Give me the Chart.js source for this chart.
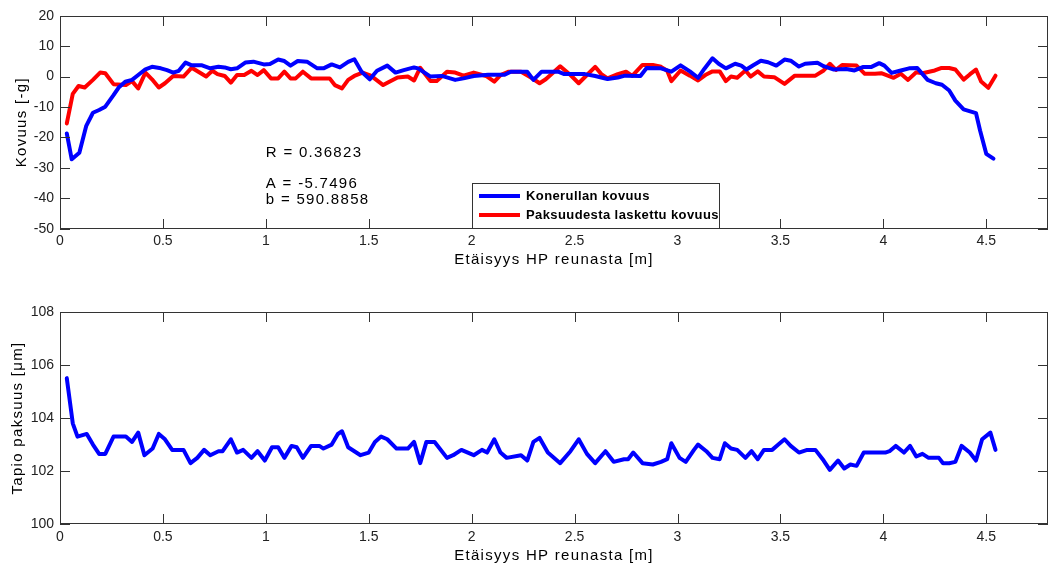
<!DOCTYPE html>
<html lang="fi">
<head>
<meta charset="UTF-8">
<title>Kovuus ja paksuus</title>
<script src="https://cdn.jsdelivr.net/npm/chart.js"></script>
<style>
  body { margin: 0; background: #fff; }
  #wrap { position: relative; width: 1048px; height: 565px; }
  canvas { position: absolute; left: 0; }
  #top { top: 0; }
  #bottom { top: 285px; }
</style>
</head>
<body>
<div id="wrap">
  <canvas id="top" width="1048" height="285"></canvas>
  <canvas id="bottom" width="1048" height="280"></canvas>
</div>
<script>
// x ticks (m) and y ticks
const xTicks = [0, 0.5, 1, 1.5, 2, 2.5, 3, 3.5, 4, 4.5];
const kovuusTicks = [-50, -40, -30, -20, -10, 0, 10, 20];
const paksuusTicks = [100, 102, 104, 106, 108];

// Konerullan kovuus (blue, top)
const koneX = [0.033,0.057,0.094,0.127,0.16,0.19,0.22,0.26,0.285,0.317,0.35,0.38,0.415,0.447,0.49,0.52,0.55,0.577,0.61,0.64,
  0.69,0.73,0.77,0.80,0.83,0.86,0.90,0.94,0.99,1.02,1.06,1.09,1.12,1.155,1.20,1.25,1.28,1.32,1.36,1.40,
  1.43,1.465,1.505,1.54,1.59,1.63,1.67,1.72,1.74,1.80,1.855,1.92,1.96,2.01,2.08,2.16,2.19,2.27,2.30,2.34,
  2.42,2.45,2.55,2.60,2.66,2.71,2.745,2.82,2.85,2.92,2.97,3.015,3.06,3.10,3.13,3.17,3.20,3.235,3.28,3.31,
  3.335,3.37,3.405,3.44,3.48,3.52,3.55,3.59,3.62,3.68,3.71,3.76,3.82,3.86,3.90,3.94,3.98,4.005,4.04,4.085,
  4.125,4.165,4.215,4.255,4.285,4.32,4.35,4.39,4.45,4.47,4.50,4.535];
const koneY = [-18.7,-27.2,-25,-16.3,-11.9,-11,-9.9,-6.1,-3.6,-1.7,-1.1,0.5,2.4,3.2,2.7,2.1,1.3,1.9,4.6,3.7,
  3.7,2.7,3.2,3.0,2.4,2.7,4.6,4.9,4.0,4.1,5.6,5.1,3.6,5.1,4.9,2.7,2.7,4.0,3.0,4.8,
  5.7,1.6,-0.9,1.9,3.6,1.3,2.1,3.0,2.7,0,0.2,-1.1,-0.6,0.2,0.6,0.6,1.6,1.6,-1.1,1.6,
  1.6,0.8,0.8,0.2,-0.8,-0.3,0.3,0.2,2.8,2.7,1.6,3.7,1.7,-0.4,2.5,6.0,4.2,2.7,4.2,3.6,
  2.3,3.8,5.2,4.7,3.6,5.6,5.2,3.3,4.2,4.5,3.4,2.3,2.5,2.0,3.1,3.1,4.4,3.6,1.2,2.0,
  2.7,2.8,-1.1,-2.2,-2.7,-4.6,-7.9,-10.8,-12.0,-17.7,-25.4,-27.0];

// Paksuudesta laskettu kovuus (red, top)
const laskX = [0.033,0.062,0.09,0.12,0.16,0.195,0.22,0.26,0.32,0.35,0.38,0.415,0.447,0.48,0.51,0.55,0.60,0.64,0.71,0.74,
  0.765,0.80,0.83,0.86,0.895,0.93,0.96,0.99,1.025,1.06,1.09,1.12,1.145,1.18,1.22,1.31,1.335,1.37,1.40,1.43,
  1.47,1.51,1.57,1.60,1.64,1.69,1.72,1.75,1.80,1.83,1.88,1.92,1.96,2.01,2.07,2.11,2.14,2.18,2.24,2.29,
  2.33,2.36,2.43,2.48,2.52,2.56,2.60,2.63,2.66,2.71,2.75,2.78,2.83,2.88,2.92,2.95,2.97,3.015,3.06,3.10,
  3.14,3.17,3.205,3.235,3.26,3.29,3.33,3.355,3.39,3.42,3.47,3.52,3.57,3.67,3.71,3.74,3.77,3.80,3.87,3.91,
  3.96,3.99,4.05,4.085,4.12,4.16,4.19,4.25,4.28,4.32,4.35,4.39,4.42,4.45,4.475,4.51,4.545];
const laskY = [-15.4,-5.7,-3.1,-3.6,-1.1,1.3,1.1,-2.5,-2.8,-1.5,-3.9,1.3,-0.9,-3.6,-2.2,0.2,0,2.9,0,1.9,
  0.8,0.2,-2.0,0.5,0.5,1.9,0.5,2.1,-0.6,-0.6,1.6,-0.6,-0.6,1.6,-0.6,-0.6,-2.8,-3.9,-1.1,0.2,
  1.3,0.3,-2.8,-1.7,-0.3,0,-1.3,2.9,-1.5,-1.5,1.6,1.3,0.3,1.3,0.2,-1.7,0.5,1.6,1.6,-0.4,
  -2.2,-0.9,3.4,0.5,-2.2,0.5,3.2,0.8,-0.6,0.8,1.6,0.2,3.8,3.8,3.2,1.9,-1.5,2.0,0.3,-1.3,
  0.7,1.7,1.7,-1.5,0,-0.4,2.0,0,1.7,0,-0.2,-2.4,0.3,0.3,2.0,4.2,2.2,3.8,3.6,0.9,
  0.9,1.1,-0.4,0.9,-1.1,1.4,1.1,2.0,2.8,2.8,2.3,-1.0,0.7,2.3,-1.6,-3.7,0.3];

// Tapio paksuus (blue, bottom)
const paksX = [0.033,0.062,0.085,0.13,0.16,0.19,0.22,0.26,0.32,0.35,0.38,0.41,0.45,0.48,0.51,0.545,0.60,0.634,0.667,0.70,
  0.73,0.77,0.79,0.83,0.86,0.89,0.93,0.96,0.995,1.03,1.06,1.09,1.125,1.15,1.18,1.22,1.26,1.28,1.32,1.35,
  1.37,1.40,1.46,1.50,1.53,1.56,1.59,1.635,1.69,1.72,1.75,1.78,1.82,1.88,1.91,1.95,2.01,2.05,2.075,2.11,
  2.14,2.17,2.24,2.27,2.30,2.33,2.37,2.43,2.48,2.52,2.56,2.60,2.65,2.69,2.74,2.76,2.785,2.83,2.88,2.92,
  2.95,2.97,3.01,3.04,3.08,3.10,3.14,3.17,3.205,3.23,3.26,3.29,3.33,3.36,3.39,3.42,3.46,3.49,3.52,3.55,
  3.59,3.63,3.67,3.71,3.74,3.78,3.81,3.84,3.87,3.905,3.94,4.01,4.03,4.06,4.10,4.13,4.16,4.19,4.22,4.27,
  4.29,4.32,4.35,4.38,4.42,4.45,4.48,4.52,4.545];
const paksY = [105.5,103.8,103.3,103.4,103.0,102.65,102.65,103.3,103.3,103.1,103.45,102.6,102.85,103.4,103.2,102.8,102.8,102.3,102.5,102.8,
  102.6,102.75,102.75,103.2,102.7,102.8,102.5,102.75,102.4,102.9,102.9,102.5,102.95,102.9,102.5,102.95,102.95,102.85,103.0,103.4,
  103.5,102.9,102.6,102.7,103.1,103.3,103.2,102.85,102.85,103.1,102.3,103.1,103.1,102.5,102.6,102.8,102.6,102.8,102.7,103.2,
  102.7,102.5,102.6,102.4,103.1,103.25,102.7,102.3,102.75,103.2,102.65,102.3,102.75,102.35,102.45,102.45,102.7,102.3,102.25,102.35,
  102.45,103.05,102.5,102.35,102.8,103.0,102.75,102.5,102.45,103.05,102.85,102.8,102.5,102.75,102.45,102.8,102.8,103.0,103.2,102.95,
  102.7,102.8,102.8,102.4,102.05,102.4,102.1,102.25,102.2,102.7,102.7,102.7,102.75,102.95,102.7,102.95,102.55,102.65,102.5,102.5,
  102.3,102.3,102.35,102.95,102.7,102.4,103.2,103.45,102.8];

const FONT = '"Liberation Sans", Arial, Helvetica, sans-serif';
Chart.defaults.font.family = FONT;

function pts(xs, ys) {
  return xs.map((x, i) => ({ x: x, y: ys[i] }));
}

function tickValues(scale) {
  return scale.ticks.map(t => t.value);
}

// matlab-like box, inward ticks, axis titles, texts and legend
const matlabAxes = {
  id: 'matlabAxes',
  afterDraw(chart) {
    const o = chart.options.plugins.matlabAxes;
    const { ctx, chartArea: a, scales } = chart;
    const left = Math.round(a.left), right = Math.round(a.right) - 1;
    const top = Math.round(a.top), bottom = Math.round(a.bottom) - 1;
    const len = 10;
    ctx.save();

    ctx.fillStyle = '#000';
    ctx.font = '15px ' + FONT;
    ctx.letterSpacing = '1.3px';
    ctx.textAlign = 'center';
    ctx.textBaseline = 'middle';
    ctx.fillText(o.xTitle, (a.left + a.right) / 2, a.bottom + 31.5);
    ctx.save();
    ctx.translate(o.yTitleX, (a.top + a.bottom) / 2);
    ctx.rotate(-Math.PI / 2);
    ctx.fillText(o.yTitle, 0, 0);
    ctx.restore();

    ctx.textAlign = 'left';
    (o.notes || []).forEach(n => {
      ctx.fillText(n.text, scales.x.getPixelForValue(n.x), scales.y.getPixelForValue(n.y));
    });

    // box and inward ticks on all four sides
    ctx.fillStyle = '#333';
    ctx.fillRect(left, top, right - left + 1, 1);
    ctx.fillRect(left, bottom, right - left + 1, 1);
    ctx.fillRect(left, top, 1, bottom - top + 1);
    ctx.fillRect(right, top, 1, bottom - top + 1);
    tickValues(scales.x).forEach(v => {
      const px = Math.round(scales.x.getPixelForValue(v));
      ctx.fillRect(px, top, 1, len);
      ctx.fillRect(px, bottom - len + 1, 1, len);
    });
    tickValues(scales.y).forEach(v => {
      const py = Math.round(scales.y.getPixelForValue(v));
      ctx.fillRect(left, py, len, 1);
      ctx.fillRect(right - len + 1, py, len, 1);
    });

    if (o.legend) {
      const g = o.legend;
      ctx.fillStyle = '#fff';
      ctx.fillRect(g.x, g.y, g.w, g.h);
      ctx.fillStyle = '#333';
      ctx.fillRect(g.x, g.y, g.w, 1);
      ctx.fillRect(g.x, g.y, 1, g.h);
      ctx.fillRect(g.x + g.w - 1, g.y, 1, g.h);
      ctx.fillRect(g.x, g.y + g.h - 1, g.w, 1);
      ctx.font = 'bold 13px ' + FONT;
      ctx.letterSpacing = '0.4px';
      chart.data.datasets.forEach((ds, i) => {
        const yy = g.y + 13 + i * 19;
        ctx.strokeStyle = ds.borderColor;
        ctx.lineWidth = 4;
        ctx.beginPath();
        ctx.moveTo(g.x + 7, yy); ctx.lineTo(g.x + 48, yy);
        ctx.stroke();
        ctx.fillStyle = '#000';
        ctx.fillText(ds.label, g.x + 54, yy + 0.5);
      });
    }
    ctx.restore();
  }
};

function axisOpts(min, max, ticks, size, isX) {
  return {
    type: 'linear',
    min: min,
    max: max,
    afterBuildTicks: s => { s.ticks = ticks.map(v => ({ value: v })); },
    afterFit: s => { if (isX) s.height = size; else s.width = size; },
    grid: { display: false, drawTicks: false },
    border: { display: false },
    ticks: {
      padding: isX ? 4 : 6,
      color: '#222',
      font: { size: 14 },
      callback: v => String(v)
    }
  };
}

function lineSet(label, data, color) {
  return {
    label: label,
    data: data,
    borderColor: color,
    borderWidth: 4,
    pointRadius: 0,
    tension: 0,
    fill: false,
    borderJoinStyle: 'round',
    borderCapStyle: 'round'
  };
}

new Chart(document.getElementById('top'), {
  type: 'line',
  data: {
    datasets: [
      lineSet('Konerullan kovuus', pts(koneX, koneY), '#0000ff'),
      lineSet('Paksuudesta laskettu kovuus', pts(laskX, laskY), '#ff0000')
    ]
  },
  options: {
    responsive: false,
    animation: false,
    events: [],
    layout: { padding: { top: 15.7, right: 0, left: 0, bottom: 0 } },
    scales: {
      x: axisOpts(0, 4.8, xTicks, 56.3, true),
      y: axisOpts(-50, 20, kovuusTicks, 60, false)
    },
    plugins: {
      legend: { display: false },
      tooltip: { enabled: false },
      matlabAxes: {
        xTitle: 'Etäisyys HP reunasta [m]',
        yTitle: 'Kovuus [-g]',
        yTitleX: 21.7,
        notes: [
          { text: 'R = 0.36823', x: 1.0, y: -25.2 },
          { text: 'A = -5.7496', x: 1.0, y: -35.1 },
          { text: 'b = 590.8858', x: 1.0, y: -40.4 }
        ],
        legend: { x: 472, y: 183, w: 248, h: 46 }
      }
    }
  },
  plugins: [matlabAxes]
});

new Chart(document.getElementById('bottom'), {
  type: 'line',
  data: {
    datasets: [
      lineSet('Tapio paksuus', pts(paksX, paksY), '#0000ff')
    ]
  },
  options: {
    responsive: false,
    animation: false,
    events: [],
    layout: { padding: { top: 26.7, right: 0, left: 0, bottom: 0 } },
    scales: {
      x: axisOpts(0, 4.8, xTicks, 40.7, true),
      y: axisOpts(100, 108, paksuusTicks, 60, false)
    },
    plugins: {
      legend: { display: false },
      tooltip: { enabled: false },
      matlabAxes: {
        xTitle: 'Etäisyys HP reunasta [m]',
        yTitle: 'Tapio paksuus [μm]',
        yTitleX: 18.3
      }
    }
  },
  plugins: [matlabAxes]
});
</script>
</body>
</html>
